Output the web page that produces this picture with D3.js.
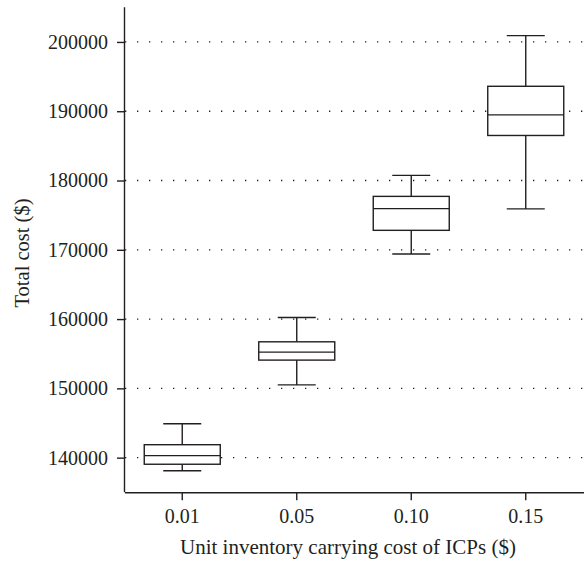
<!DOCTYPE html>
<html>
<head>
<meta charset="utf-8">
<script src="https://cdn.jsdelivr.net/npm/d3@7"></script>
<style>
  html, body { margin: 0; padding: 0; background: #fff; }
  svg { display: block; }
  text { font-family: "Liberation Serif", "Times New Roman", serif; fill: #231f20; }
</style>
</head>
<body>
<svg id="chart" width="584" height="561"></svg>
<script>
const categories = ["0.01", "0.05", "0.10", "0.15"];
const whiskerLow  = [138100, 150500, 169400, 175900];
const q1          = [139050, 154080, 172810, 186500];
const median      = [140290, 155230, 175940, 189480];
const q3          = [141870, 156720, 177710, 193600];
const whiskerHigh = [144900, 160230, 180740, 200910];
const yTicks = [140000, 150000, 160000, 170000, 180000, 190000, 200000];
const xTitle = "Unit inventory carrying cost of ICPs ($)";
const yTitle = "Total cost ($)";

(function () {
const svg = d3.select("#chart");
const mLeft = 125, mRight = 583, mTop = 7.3, mBottom = 492.3;
const ink = "#231f20";

const x = d3.scaleBand().domain(categories).range([mLeft, mRight]).paddingInner(0).paddingOuter(0);
const y = d3.scaleLinear().domain([135000, 205000]).range([mBottom, mTop]);

// grid lines
svg.append("g").selectAll("line").data(yTicks).join("line")
  .attr("x1", mLeft).attr("x2", 584)
  .attr("y1", d => y(d)).attr("y2", d => y(d))
  .attr("stroke", ink).attr("stroke-width", 1.3)
  .attr("stroke-dasharray", "1.3,10.7");

// axes
const yAxis = svg.append("g").attr("transform", `translate(${mLeft},0)`)
  .call(d3.axisLeft(y).tickValues(yTicks).tickFormat(d3.format("d")).tickSize(8).tickPadding(9));
const xAxis = svg.append("g").attr("transform", `translate(0,${mBottom})`)
  .call(d3.axisBottom(x).tickSize(8).tickPadding(9));
[yAxis, xAxis].forEach(g => {
  g.select(".domain").attr("stroke", ink).attr("stroke-width", 1.4);
  g.selectAll(".tick line").attr("stroke", ink).attr("stroke-width", 1.4);
  g.selectAll(".tick text").attr("font-size", 20).attr("fill", ink)
    .style("font-family", '"Liberation Serif", serif');
});
xAxis.select(".domain").attr("d", `M${mLeft},0.5H584`);
yAxis.select(".domain").attr("d", `M-0.5,${mTop}V${mBottom}`);

// boxes
const boxW = 76, capW = 38;
const data = categories.map((c, i) => ({c, lo: whiskerLow[i], q1: q1[i], med: median[i], q3: q3[i], hi: whiskerHigh[i]}));
const g = svg.append("g").attr("stroke", ink).attr("stroke-width", 1.4).attr("fill", "none");
data.forEach(d => {
  const cx = x(d.c) + x.bandwidth() / 2;
  g.append("line").attr("x1", cx).attr("x2", cx).attr("y1", y(d.hi)).attr("y2", y(d.q3));
  g.append("line").attr("x1", cx).attr("x2", cx).attr("y1", y(d.q1)).attr("y2", y(d.lo));
  g.append("line").attr("x1", cx - capW/2).attr("x2", cx + capW/2).attr("y1", y(d.hi)).attr("y2", y(d.hi));
  g.append("line").attr("x1", cx - capW/2).attr("x2", cx + capW/2).attr("y1", y(d.lo)).attr("y2", y(d.lo));
  g.append("rect").attr("x", cx - boxW/2).attr("width", boxW)
    .attr("y", y(d.q3)).attr("height", y(d.q1) - y(d.q3)).attr("fill", "#fff");
  g.append("line").attr("x1", cx - boxW/2).attr("x2", cx + boxW/2).attr("y1", y(d.med)).attr("y2", y(d.med));
});

// titles
svg.append("text").attr("x", 348).attr("y", 554).attr("text-anchor", "middle")
  .attr("font-size", 21).text(xTitle);
svg.append("text").attr("transform", `translate(29,253) rotate(-90)`).attr("text-anchor", "middle")
  .attr("font-size", 20.5).text(yTitle);
})();
</script>
</body>
</html>
